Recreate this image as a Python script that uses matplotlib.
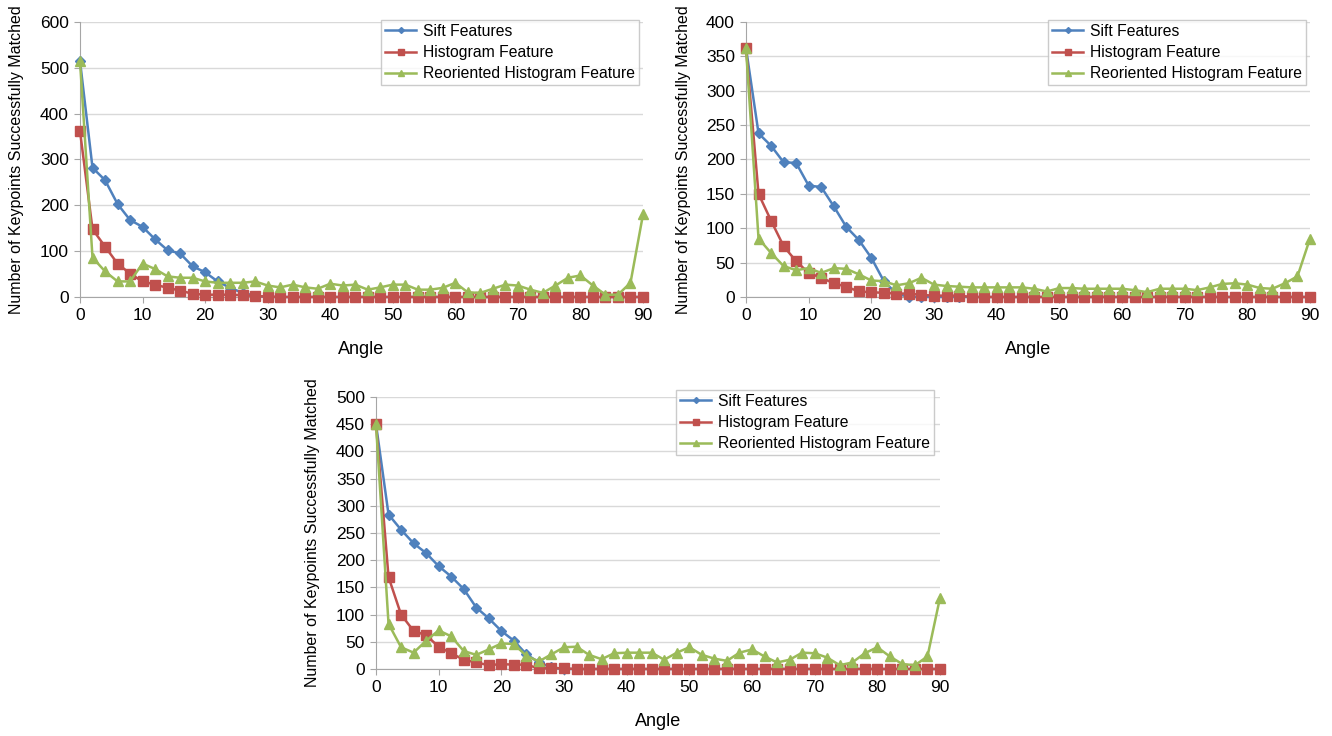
import matplotlib.pyplot as plt
import numpy as np

plt.rcParams['font.family'] = ['Liberation Sans', 'DejaVu Sans']

# angles 0..90 in steps of 2
angles = list(range(0, 92, 2))

# top-left chart
sift_1 = [515, 282, 255, 203, 168, 153, 126, 102, 95, 67, 54, 34, 20, 9, 3] + [0] * 31
hist_1 = [362, 148, 110, 73, 51, 34, 27, 20, 14, 7, 5, 5, 5, 4, 2, 1] + [0] * 30
reor_1 = [515, 86, 56, 34, 34, 73, 61, 45, 42, 42, 34, 31, 31, 31, 34, 25,
          21, 27, 21, 18, 29, 25, 27, 16, 21, 27, 27, 16, 16, 20, 31, 10,
          9, 18, 27, 25, 16, 9, 25, 42, 47, 25, 5, 5, 31, 180]

# top-right chart
sift_2 = [362, 238, 220, 196, 195, 162, 160, 132, 102, 83, 57, 23, 5] + [0] * 33
hist_2 = [362, 150, 111, 74, 52, 35, 28, 20, 15, 8, 7, 6, 5, 5, 3, 2, 2, 2] + [0] * 28
reor_2 = [362, 85, 64, 45, 39, 42, 35, 42, 41, 33, 24, 23, 17, 20, 28, 18,
          16, 15, 14, 14, 14, 14, 14, 12, 8, 13, 13, 12, 12, 12, 12, 10,
          7, 12, 12, 12, 10, 14, 19, 20, 18, 13, 12, 20, 30, 85]

# bottom chart
sift_3 = [450, 284, 256, 231, 213, 189, 170, 147, 113, 93, 70, 52, 27, 12, 3] + [0] * 31
hist_3 = [450, 169, 100, 70, 62, 41, 29, 17, 12, 7, 9, 8, 8, 1, 2, 1] + [0] * 30
reor_3 = [450, 83, 40, 30, 52, 71, 60, 33, 26, 36, 47, 46, 24, 14, 27, 40,
          41, 26, 18, 29, 30, 30, 30, 17, 30, 40, 26, 19, 15, 30, 36, 23,
          12, 17, 30, 29, 21, 7, 12, 29, 40, 23, 9, 7, 23, 131]

series_names = ['Sift Features', 'Histogram Feature', 'Reoriented Histogram Feature']
x_ticks = [0, 10, 20, 30, 40, 50, 60, 70, 80, 90]

BLUE = '#4F81BD'
RED = '#C0504D'
GREEN = '#9BBB59'
GRID = '#D9D9D9'
AXIS = '#A6A6A6'

W, H = 1332, 736
fig = plt.figure(figsize=(W / 100, H / 100), dpi=100)


def panel(box, sift, hist, reor, ymax, ystep, legend_xy):
    left, right, top, bottom = box
    ax = fig.add_axes([left / W, 1 - bottom / H, (right - left) / W, (bottom - top) / H])

    ax.plot(angles, sift, color=BLUE, lw=1.8, marker='D', ms=5, label=series_names[0], zorder=3)
    ax.plot(angles, hist, color=RED, lw=1.8, marker='s', ms=7, label=series_names[1], zorder=4)
    ax.plot(angles, reor, color=GREEN, lw=1.8, marker='^', ms=7, label=series_names[2], zorder=5)

    ax.set_xlim(0, 90)
    ax.set_ylim(0, ymax)
    ax.set_xticks(x_ticks)
    ax.set_yticks(np.arange(0, ymax + 1, ystep))
    ax.yaxis.grid(True, color=GRID, lw=1)
    ax.set_axisbelow(True)
    for s in ['top', 'right']:
        ax.spines[s].set_visible(False)
    for s in ['left', 'bottom']:
        ax.spines[s].set_color(AXIS)
    ax.tick_params(axis='both', labelsize=12.5, color=AXIS, length=4, pad=4)
    for ln in ax.lines:
        ln.set_clip_on(False)

    ax.set_xlabel('Angle', fontsize=13, labelpad=13)
    ax.set_ylabel('Number of Keypoints Successfully Matched', fontsize=11.5)
    # label position: right edge of the rotated text in pixels
    ax.yaxis.set_label_coords(-(left - legend_xy[2]) / (right - left), 0.5)

    leg = ax.legend(loc='upper left', bbox_to_anchor=(legend_xy[0] / W, 1 - legend_xy[1] / H),
                    bbox_transform=fig.transFigure, fontsize=11.3, frameon=True, fancybox=False,
                    borderpad=0.25, borderaxespad=0, labelspacing=0.4, handlelength=2.0,
                    handletextpad=0.4, markerscale=0.6)
    leg.get_frame().set_edgecolor('#BFBFBF')
    leg.get_frame().set_linewidth(1)
    return ax


panel((80, 643, 22, 297), sift_1, hist_1, reor_1, 600, 100, (381, 20, 24))
panel((746, 1310, 22, 297), sift_2, hist_2, reor_2, 400, 50, (1048, 20, 691))
panel((376, 940, 397, 669), sift_3, hist_3, reor_3, 500, 50, (676, 390, 320))

fig.savefig('out.png', dpi=100)
